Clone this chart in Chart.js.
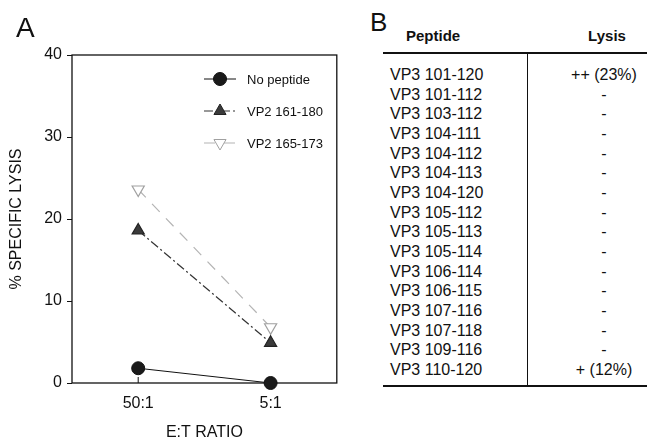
<!DOCTYPE html>
<html>
<head>
<meta charset="utf-8">
<script src="https://cdn.jsdelivr.net/npm/chart.js@4.4.0/dist/chart.umd.min.js"></script>
<style>
  body { margin: 0; background: #fff; font-family: "Liberation Sans", Arial, sans-serif; color: #111; }
  #page { position: relative; width: 653px; height: 444px; overflow: hidden; }
  #chartA { position: absolute; left: 0; top: 0; }
  .panel { position: absolute; font-size: 27px; line-height: 1; }
  .cell { position: absolute; font-size: 16px; line-height: 20px; white-space: nowrap; }
  .head { font-weight: bold; font-size: 15px; }
  .rule { position: absolute; background: #111; }
</style>
</head>
<body>
<div id="page">
  <canvas id="chartA" width="345" height="444"></canvas>
  <div class="panel" style="left:16px;top:14px;font-size:28px;">A</div>
  <div class="panel" style="left:370px;top:9px;font-size:26px;">B</div>
  <div id="tableB"></div>
</div>
<script>
// Panel A data
const ratios = ['50:1', '5:1'];
const noPeptide = [1.8, 0];
const vp2_161_180 = [18.6, 4.9];
const vp2_165_173 = [23.6, 6.8];

// Panel B data
const peptides = [
  'VP3 101-120', 'VP3 101-112', 'VP3 103-112', 'VP3 104-111',
  'VP3 104-112', 'VP3 104-113', 'VP3 104-120', 'VP3 105-112',
  'VP3 105-113', 'VP3 105-114', 'VP3 106-114', 'VP3 106-115',
  'VP3 107-116', 'VP3 107-118', 'VP3 109-116', 'VP3 110-120'
];
const lysis = [
  '++ (23%)', '-', '-', '-', '-', '-', '-', '-',
  '-', '-', '-', '-', '-', '-', '-', '+ (12%)'
];

// frame around the plot + small inward ticks on the x axis
const framePlugin = {
  id: 'frame',
  beforeDatasetsDraw(chart) {
    const {ctx, chartArea: a, scales} = chart;
    ctx.save();
    ctx.strokeStyle = '#111';
    ctx.lineWidth = 1.3;
    ctx.strokeRect(a.left, a.top, a.right - a.left, a.bottom - a.top);
    ctx.lineWidth = 1;
    ratios.forEach((r, i) => {
      const x = scales.x.getPixelForValue(i);
      ctx.beginPath();
      ctx.moveTo(x, a.bottom);
      ctx.lineTo(x, a.bottom - 6);
      ctx.stroke();
    });
    ctx.restore();
  }
};

// legend drawn inside the plot, top right
const innerLegend = {
  id: 'innerLegend',
  afterDraw(chart) {
    const {ctx, chartArea: a} = chart;
    chart.data.datasets.forEach((ds, i) => {
      const y = a.top + 24 + i * 32;
      const x0 = a.left + 132, x1 = a.left + 164, xm = (x0 + x1) / 2;
      ctx.save();
      ctx.strokeStyle = ds.borderColor;
      ctx.lineWidth = ds.borderWidth;
      ctx.setLineDash(ds.borderDash || []);
      ctx.beginPath();
      ctx.moveTo(x0, y);
      ctx.lineTo(x1, y);
      ctx.stroke();
      ctx.setLineDash([]);
      ctx.fillStyle = ds.pointBackgroundColor;
      ctx.strokeStyle = ds.pointBorderColor;
      ctx.lineWidth = 1;
      Chart.helpers.drawPoint(ctx, {
        pointStyle: ds.pointStyle,
        rotation: ds.pointRotation || 0,
        radius: ds.pointRadius,
        borderWidth: 1
      }, xm, y);
      ctx.fillStyle = '#111';
      ctx.font = '13px "Liberation Sans", Arial, sans-serif';
      ctx.textBaseline = 'middle';
      ctx.fillText(ds.label, a.left + 175, y + 1);
      ctx.restore();
    });
  }
};

const tickFont = {family: '"Liberation Sans", Arial, sans-serif', size: 16};

new Chart(document.getElementById('chartA'), {
  type: 'line',
  data: {
    labels: ratios,
    datasets: [{
      label: 'No peptide',
      data: noPeptide,
      borderColor: '#111',
      borderWidth: 1,
      pointStyle: 'circle',
      pointRadius: 6.5,
      pointBackgroundColor: '#1a1a1a',
      pointBorderColor: '#111',
      clip: false
    }, {
      label: 'VP2 161-180',
      data: vp2_161_180,
      borderColor: '#333',
      borderWidth: 1.2,
      borderDash: [9, 3, 2, 3],
      pointStyle: 'triangle',
      pointRadius: 7,
      pointBackgroundColor: '#3a3a3a',
      pointBorderColor: '#222',
      clip: false
    }, {
      label: 'VP2 165-173',
      data: vp2_165_173,
      borderColor: '#b4b4b4',
      borderWidth: 1.2,
      borderDash: [11, 9],
      pointStyle: 'triangle',
      pointRotation: 180,
      pointRadius: 7,
      pointBackgroundColor: '#fff',
      pointBorderColor: '#a0a0a0',
      clip: false
    }]
  },
  options: {
    responsive: false,
    animation: false,
    events: [],
    layout: { padding: { top: 55, right: 8, left: 0, bottom: 0 } },
    plugins: {
      legend: { display: false },
      tooltip: { enabled: false }
    },
    scales: {
      x: {
        type: 'category',
        offset: true,
        afterFit(scale) { scale.height = 61; },
        border: { display: false },
        grid: { display: false, drawTicks: false },
        ticks: { color: '#111', font: tickFont, padding: 11, maxRotation: 0 },
        title: {
          display: true,
          text: 'E:T RATIO',
          color: '#111',
          font: tickFont,
          padding: { top: 0, bottom: 2 }
        }
      },
      y: {
        min: 0,
        max: 40,
        afterFit(scale) { scale.width = 72; },
        border: { display: false },
        grid: { drawOnChartArea: false, drawTicks: true, tickLength: 5, color: '#111' },
        ticks: { stepSize: 10, color: '#111', font: tickFont, padding: 5 },
        title: {
          display: true,
          text: '% SPECIFIC LYSIS',
          color: '#111',
          font: tickFont,
          padding: { top: 7, bottom: 0 }
        }
      }
    }
  },
  plugins: [framePlugin, innerLegend]
});

// Panel B table
const tableB = document.getElementById('tableB');
function addCell(text, left, top, cls, center) {
  const d = document.createElement('div');
  d.className = 'cell' + (cls ? ' ' + cls : '');
  d.textContent = text;
  d.style.top = top + 'px';
  if (center) {
    d.style.left = (left - 60) + 'px';
    d.style.width = '120px';
    d.style.textAlign = 'center';
  } else {
    d.style.left = left + 'px';
  }
  tableB.appendChild(d);
}
function addRule(left, top, w, h) {
  const d = document.createElement('div');
  d.className = 'rule';
  Object.assign(d.style, {left: left + 'px', top: top + 'px', width: w + 'px', height: h + 'px'});
  tableB.appendChild(d);
}
addCell('Peptide', 406, 26, 'head');
addCell('Lysis', 607, 26, 'head', true);
addRule(383, 52, 264, 1.5);
addRule(527, 53, 1.3, 333);
addRule(383, 385, 264, 1.5);
const rowStep = 19.67;
peptides.forEach((p, i) => {
  const top = 65 + i * rowStep;
  addCell(p, 390, top);
  addCell(lysis[i], 604, top, '', true);
});
</script>
</body>
</html>
